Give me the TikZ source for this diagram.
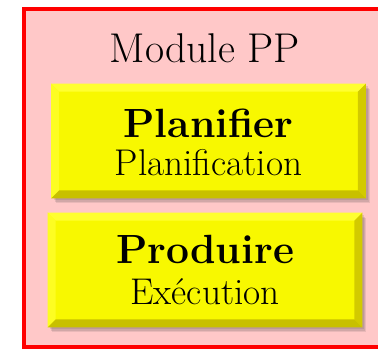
\documentclass[tikz,border=0pt]{standalone}
\usepackage{tikz}
\usetikzlibrary{calc,shadows}
\definecolor{fondpp}{HTML}{FFC8C8}
\definecolor{jaune}{HTML}{F8F800}
\definecolor{jauneclair}{HTML}{FFFF30}
\definecolor{jaunesombre}{HTML}{D2CA00}
\definecolor{jaunebas}{HTML}{C8C000}
\tikzset{
  bloc/.style={fill=jaune,minimum width=157pt,minimum height=57pt,
    align=center,inner sep=0pt,
    drop shadow={shadow xshift=2pt,shadow yshift=-2.5pt,opacity=0.12,fill=black!70},
    drop shadow={shadow xshift=1.5pt,shadow yshift=-2pt,opacity=0.15,fill=black!70},
    drop shadow={shadow xshift=1pt,shadow yshift=-1.2pt,opacity=0.15,fill=black!70}},
  titre/.style={font=\fontsize{20.4}{20.4}\selectfont\bfseries},
  soustitre/.style={font=\fontsize{18.6}{18.6}\selectfont}
}
% facettes du bouton en relief
\newcommand*{\bevel}[1]{%
  \fill[jauneclair] (#1.north west) -- (#1.north east)
    -- ($(#1.north east)+(-4pt,-4pt)$) -- ($(#1.north west)+(4pt,-4pt)$) -- cycle;
  \fill[jauneclair!70!jaune] (#1.north west) -- ($(#1.north west)+(4pt,-4pt)$)
    -- ($(#1.south west)+(4pt,4pt)$) -- (#1.south west) -- cycle;
  \fill[jaunesombre] (#1.north east) -- (#1.south east)
    -- ($(#1.south east)+(-4pt,4pt)$) -- ($(#1.north east)+(-4pt,-4pt)$) -- cycle;
  \fill[jaunebas] (#1.south west) -- (#1.south east)
    -- ($(#1.south east)+(-4pt,4pt)$) -- ($(#1.south west)+(4pt,4pt)$) -- cycle;
}

\begin{document}
\begin{tikzpicture}[x=0.5pt,y=-0.5pt]
\useasboundingbox (0,0) rectangle (378,348);
\clip (0,0) rectangle (378,348);
\draw[red,line width=2pt,fill=fondpp] (24,9) rectangle (420,347);
\node[anchor=base,font=\fontsize{20.8}{20.8}\selectfont] (module) at (205,62) {Module PP};

\node[bloc] (plan) at (208.5,141) {};
\bevel{plan};
\node[titre,anchor=base] (planT) at ($(plan)+(0,-4)$) {Planifier};
\node[soustitre,anchor=base] (planS) at ($(plan)+(0,34)$) {Planification};

\node[bloc] (prod) at (205,270) {};
\bevel{prod};
\node[titre,anchor=base] (prodT) at ($(prod)+(0,-7)$) {Produire};
\node[soustitre,anchor=base] (prodS) at ($(prod)+(0,34)$) {Exécution};
\end{tikzpicture}
\end{document}
